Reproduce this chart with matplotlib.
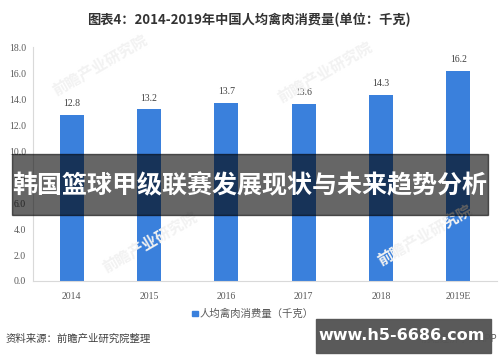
import matplotlib
matplotlib.use("Agg")
import matplotlib.pyplot as plt
from matplotlib.patches import Rectangle

plt.rcParams['font.family'] = ['Noto Sans CJK SC', 'DejaVu Sans']

# 数据
years = ['2014', '2015', '2016', '2017', '2018', '2019E']
values = [12.8, 13.2, 13.7, 13.6, 14.3, 16.2]
yticks = [0, 2, 4, 6, 8, 10, 12, 14, 16, 18]

title = '图表4：2014-2019年中国人均禽肉消费量(单位：千克)'
legend_label = '人均禽肉消费量（千克）'
source = '资料来源：前瞻产业研究院整理'
banner = '韩国篮球甲级联赛发展现状与未来趋势分析'
site = 'www.h5-6686.com'

bar_color = '#3a80dc'
grey = '#595959'

fig = plt.figure(figsize=(5, 3.62), dpi=100)
ax = fig.add_axes([0.066, 0.2238, 0.928, 0.646])

x = range(len(years))
bars = ax.bar(x, values, width=0.31, color=bar_color, zorder=2)
for xi, v in zip(x, values):
    ax.annotate(f'{v:.1f}', (xi, v), xytext=(0, 5), textcoords='offset points',
                ha='center', va='bottom', fontsize=7, color='#404040',
                family='Liberation Serif')

ax.set_xlim(-0.5, 5.5)
ax.set_ylim(0, 18)
ax.set_xticks(list(x))
ax.set_xticklabels(years, family='Liberation Serif', fontsize=7, color=grey)
ax.set_yticks(yticks)
ax.set_yticklabels([f'{t:.1f}' for t in yticks], family='Liberation Serif',
                   fontsize=7, color=grey)
ax.tick_params(axis='x', length=0, pad=8)
ax.tick_params(axis='y', length=0, pad=5)
for s in ['top', 'right']:
    ax.spines[s].set_visible(False)
ax.spines['left'].set_color('#d9d9d9')
ax.spines['bottom'].set_color('#d9d9d9')

# 水印
for wx, wy in [(0.2, 0.82), (0.65, 0.8), (0.3, 0.33), (0.85, 0.35)]:
    fig.text(wx, wy, '前瞻产业研究院', rotation=30, fontsize=11, color='#f2f2f2',
             ha='center', va='center', weight='bold', zorder=0)

fig.text(0.498, 0.945, title, ha='center', va='center', fontsize=9.5,
         weight='bold', color='#333333')

# 图例
fig.patches.append(Rectangle((0.384, 0.126), 0.011, 0.015, transform=fig.transFigure,
                             color=bar_color))
fig.text(0.40, 0.133, legend_label, ha='left', va='center', fontsize=7.5, color=grey)

fig.text(0.012, 0.064, source, ha='left', va='center', fontsize=7.5, color='#404040')
fig.text(0.995, 0.064, '前瞻经济学人APP', ha='right', va='center', fontsize=7,
         color='#606060')

# 横幅
fig.patches.append(Rectangle((0.024, 0.406), 0.952, 0.1685, transform=fig.transFigure,
                             color='black', alpha=0.6, zorder=5))
fig.text(0.5, 0.487, banner, ha='center', va='center', fontsize=18,
         weight='bold', color='white', zorder=6)

fig.patches.append(Rectangle((0.632, 0.025), 0.35, 0.094, transform=fig.transFigure,
                             color='#555555', alpha=0.97, zorder=5))
fig.text(0.804, 0.072, site, ha='center', va='center', fontsize=11.5,
         weight='bold', color='white', zorder=6, family='DejaVu Sans')

fig.savefig('out.png', dpi=100, facecolor='white')
